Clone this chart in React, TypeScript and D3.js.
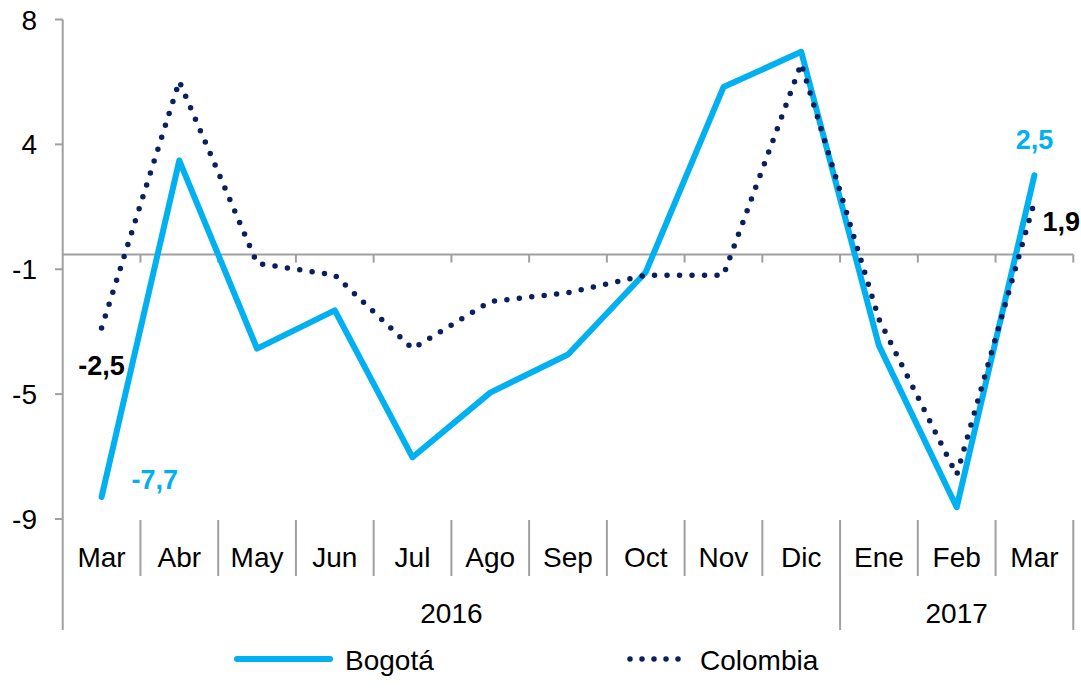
import React from "react";
import * as d3 from "d3";

const categories = ["Mar", "Abr", "May", "Jun", "Jul", "Ago", "Sep", "Oct", "Nov", "Dic", "Ene", "Feb", "Mar"];
const yearLabels = ["2016", "2017"];
const yearSpans = [10, 3];
const bogota = [-8.25, 3.2, -3.2, -1.9, -6.9, -4.7, -3.4, -0.6, 5.7, 6.9, -3.1, -8.6, 2.7];
const colombia = [-2.5, 5.9, -0.3, -0.7, -3.2, -1.6, -1.3, -0.7, -0.7, 6.5, -2.2, -7.5, 1.8];
const tickValues = [8, 3.75, -0.5, -4.75, -9];
const tickLabels = ["8", "4", "-1", "-5", "-9"];
const bogotaLabels = ["-7,7", "2,5"];
const colombiaLabels = ["-2,5", "1,9"];
const seriesNames = ["Bogotá", "Colombia"];

const W = 1081;
const H = 694;
const BLUE = "#00B0F0";
const NAVY = "#0B1F5E";
const GRAY = "#A0A0A0";
const FONT = "'Liberation Sans', Arial, sans-serif";

export default function App() {
  const x = d3.scaleBand<number>().domain(d3.range(categories.length)).range([62.7, 1073.3]).padding(0);
  const y = d3.scaleLinear().domain([-9, 8]).range([519, 19.5]);
  const cx = (i: number) => (x(i) as number) + x.bandwidth() / 2;
  const line = d3.line<number>().x((_, i) => cx(i)).y((d) => y(d));

  const bounds = d3.range(categories.length + 1).map((i) => 62.7 + i * x.bandwidth());
  const yearStarts = yearSpans.map((_, k) => d3.sum(yearSpans.slice(0, k)));
  const yearBoundIdx = new Set(yearStarts.concat([d3.sum(yearSpans)]));

  const y0 = y(0);
  const last = categories.length - 1;

  return (
    <svg width={W} height={H} style={{ position: "absolute", left: 0, top: 0, background: "#fff" }} fontFamily={FONT}>
      {/* y axis */}
      <line x1={62.7} x2={62.7} y1={y(8)} y2={630} stroke={GRAY} strokeWidth={2} />
      {tickValues.map((t, i) => (
        <g key={"t" + i}>
          <line x1={55} x2={62.7} y1={y(t)} y2={y(t)} stroke={GRAY} strokeWidth={2} />
          <text x={37} y={y(t) + 10} textAnchor="end" fontSize={28} fill="#000">
            {tickLabels[i]}
          </text>
        </g>
      ))}
      {/* zero axis line */}
      <line x1={62.7} x2={1073.3} y1={y0} y2={y0} stroke={GRAY} strokeWidth={2} />
      {bounds.slice(1).map((b, i) => (
        <line key={"zt" + i} x1={b} x2={b} y1={y0} y2={y0 + 8} stroke={GRAY} strokeWidth={2} />
      ))}
      {/* category separators */}
      {bounds.slice(1).map((b, i) => (
        <line
          key={"sep" + i}
          x1={b}
          x2={b}
          y1={520}
          y2={yearBoundIdx.has(i + 1) ? 630 : 576}
          stroke={GRAY}
          strokeWidth={2}
        />
      ))}
      {categories.map((c, i) => (
        <text key={"c" + i} x={cx(i)} y={567} textAnchor="middle" fontSize={28} fill="#000">
          {c}
        </text>
      ))}
      {yearLabels.map((yl, k) => {
        const s = yearStarts[k];
        const e = s + yearSpans[k];
        return (
          <text key={"y" + k} x={(bounds[s] + bounds[e]) / 2} y={623} textAnchor="middle" fontSize={28} fill="#000">
            {yl}
          </text>
        );
      })}
      {/* series */}
      <path d={line(bogota) || ""} fill="none" stroke={BLUE} strokeWidth={6} strokeLinejoin="round" strokeLinecap="round" />
      <path
        d={line(colombia) || ""}
        fill="none"
        stroke={NAVY}
        strokeWidth={5.5}
        strokeDasharray="0 12.5"
        strokeLinecap="round"
      />
      {/* data labels */}
      <text x={cx(0) + 30} y={y(bogota[0]) - 8} fontSize={27} fontWeight="bold" fill={BLUE}>
        {bogotaLabels[0]}
      </text>
      <text x={cx(last)} y={y(bogota[last]) - 26} textAnchor="middle" fontSize={27} fontWeight="bold" fill={BLUE}>
        {bogotaLabels[1]}
      </text>
      <text x={cx(0)} y={y(colombia[0]) + 47} textAnchor="middle" fontSize={27} fontWeight="bold" fill="#000">
        {colombiaLabels[0]}
      </text>
      <text x={cx(last) + 8} y={y(colombia[last]) + 29} fontSize={27} fontWeight="bold" fill="#000">
        {colombiaLabels[1]}
      </text>
      {/* legend */}
      <line x1={237} x2={330} y1={659} y2={659} stroke={BLUE} strokeWidth={6} strokeLinecap="round" />
      <text x={345} y={670} fontSize={28} fill="#000">
        {seriesNames[0]}
      </text>
      <line x1={630} x2={690} y1={659} y2={659} stroke={NAVY} strokeWidth={5.5} strokeDasharray="0 12" strokeLinecap="round" />
      <text x={700} y={670} fontSize={28} fill="#000">
        {seriesNames[1]}
      </text>
    </svg>
  );
}
